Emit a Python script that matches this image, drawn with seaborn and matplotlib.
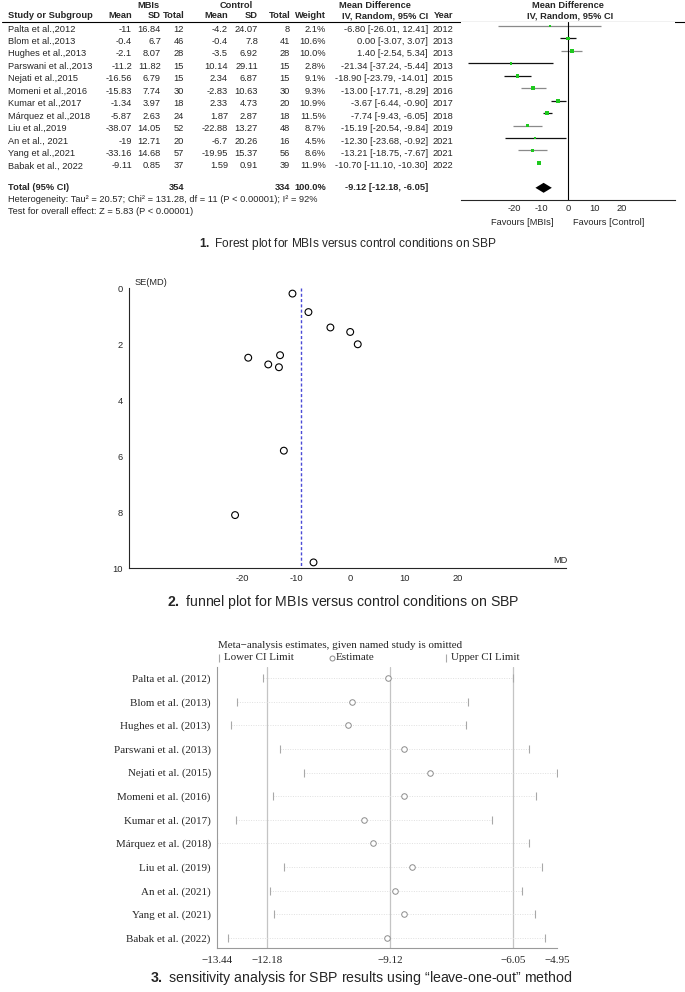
import numpy as np
import pandas as pd
import seaborn as sns
import matplotlib.pyplot as plt

# ---- forest plot data ----
studies = ['Palta et al.,2012', 'Blom et al.,2013', 'Hughes et al.,2013', 'Parswani et al.,2013',
           'Nejati et al.,2015', 'Momeni et al.,2016', 'Kumar et al.,2017', 'Márquez et al.,2018',
           'Liu et al.,2019', 'An et al., 2021', 'Yang et al.,2021', 'Babak et al., 2022']
mbi_mean = [-11, -0.4, -2.1, -11.2, -16.56, -15.83, -1.34, -5.87, -38.07, -19, -33.16, -9.11]
mbi_sd = [16.84, 6.7, 8.07, 11.82, 6.79, 7.74, 3.97, 2.63, 14.05, 12.71, 14.68, 0.85]
mbi_n = [12, 46, 28, 15, 15, 30, 18, 24, 52, 20, 57, 37]
ctl_mean = [-4.2, -0.4, -3.5, 10.14, 2.34, -2.83, 2.33, 1.87, -22.88, -6.7, -19.95, 1.59]
ctl_sd = [24.07, 7.8, 6.92, 29.11, 6.87, 10.63, 4.73, 2.87, 13.27, 20.26, 15.37, 0.91]
ctl_n = [8, 41, 28, 15, 15, 30, 20, 18, 48, 16, 56, 39]
weight = [2.1, 10.6, 10.0, 2.8, 9.1, 9.3, 10.9, 11.5, 8.7, 4.5, 8.6, 11.9]
md = [-6.80, 0.00, 1.40, -21.34, -18.90, -13.00, -3.67, -7.74, -15.19, -12.30, -13.21, -10.70]
md_lo = [-26.01, -3.07, -2.54, -37.24, -23.79, -17.71, -6.44, -9.43, -20.54, -23.68, -18.75, -11.10]
md_hi = [12.41, 3.07, 5.34, -5.44, -14.01, -8.29, -0.90, -6.05, -9.84, -0.92, -7.67, -10.30]
years = [2012, 2013, 2013, 2013, 2015, 2016, 2017, 2018, 2019, 2021, 2021, 2022]
total_n_mbi, total_n_ctl = 354, 334
total_md, total_lo, total_hi = -9.12, -12.18, -6.05
heterogeneity = 'Heterogeneity: Tau² = 20.57; Chi² = 131.28, df = 11 (P < 0.00001); I² = 92%'
overall = 'Test for overall effect: Z = 5.83 (P < 0.00001)'

# ---- funnel plot data ----
se_md = [9.80, 1.57, 2.01, 8.11, 2.49, 2.40, 1.41, 0.86, 2.73, 5.81, 2.83, 0.20]

# ---- leave-one-out data ----
sens_labels = ['Palta et al. (2012)', 'Blom et al. (2013)', 'Hughes et al. (2013)', 'Parswani et al. (2013)',
               'Nejati et al. (2015)', 'Momeni et al. (2016)', 'Kumar et al. (2017)', 'Márquez et al. (2018)',
               'Liu et al. (2019)', 'An et al. (2021)', 'Yang et al. (2021)', 'Babak et al. (2022)']
sens_est = [-9.18, -10.07, -10.16, -8.77, -8.13, -8.76, -9.78, -9.54, -8.56, -8.99, -8.76, -9.20]
sens_lo = [-12.29, -12.94, -13.09, -11.87, -11.26, -12.03, -12.97, -13.44, -11.77, -12.12, -12.01, -13.17]
sens_hi = [-6.06, -7.18, -7.22, -5.65, -4.95, -5.48, -6.57, -5.64, -5.33, -5.83, -5.51, -5.24]
sens_ticks = [-13.44, -12.18, -9.12, -6.05, -4.95]

sns.set_style('white')
plt.rcParams['font.family'] = ['Liberation Sans', 'DejaVu Sans']
plt.rcParams['axes.unicode_minus'] = False
plt.rcParams['mathtext.fontset'] = 'custom'
plt.rcParams['mathtext.bf'] = 'Liberation Sans:bold'
plt.rcParams['mathtext.rm'] = 'Liberation Sans'

W, H = 685, 992
fig = plt.figure(figsize=(W / 100, H / 100), dpi=100)


def box(left, top, right, bottom):
    return [left / W, 1 - bottom / H, (right - left) / W, (bottom - top) / H]


cv = fig.add_axes([0, 0, 1, 1])
cv.set_xlim(0, W)
cv.set_ylim(H, 0)
cv.axis('off')

# ================= 1. forest plot =================
fs = 6.7
nrow = len(studies)
ty = [29 + 12.45 * i for i in range(nrow)]

cv.text(148, 5, 'MBIs', ha='center', va='center', fontsize=fs, weight='bold')
cv.text(236, 5, 'Control', ha='center', va='center', fontsize=fs, weight='bold')
cv.text(375, 5, 'Mean Difference', ha='center', va='center', fontsize=fs, weight='bold')
cv.text(568, 5, 'Mean Difference', ha='center', va='center', fontsize=fs, weight='bold')
hdr = [('Study or Subgroup', 8, 'left'), ('Mean', 132, 'right'), ('SD', 161, 'right'), ('Total', 185, 'right'),
       ('Mean', 228, 'right'), ('SD', 258, 'right'), ('Total', 291, 'right'), ('Weight', 326, 'right'),
       ('IV, Random, 95% CI', 428, 'right'), ('Year', 453, 'right')]
for t, x, ha in hdr:
    cv.text(x, 16, t, ha=ha, va='center', fontsize=fs, weight='bold')
cv.text(570, 16, 'IV, Random, 95% CI', ha='center', va='center', fontsize=fs, weight='bold')
cv.plot([2, 685], [22, 22], color='black', lw=0.8)

for i in range(nrow):
    y = ty[i]
    cells = [(studies[i], 8, 'left'), (str(mbi_mean[i]), 132, 'right'), (str(mbi_sd[i]), 161, 'right'),
             (str(mbi_n[i]), 184, 'right'), (str(ctl_mean[i]), 228, 'right'), (str(ctl_sd[i]), 258, 'right'),
             (str(ctl_n[i]), 290, 'right'), (f'{weight[i]:.1f}%', 326, 'right'),
             (f'{md[i]:.2f} [{md_lo[i]:.2f}, {md_hi[i]:.2f}]', 428, 'right'), (str(years[i]), 453, 'right')]
    for t, x, ha in cells:
        cv.text(x, y, t, ha=ha, va='center', fontsize=fs)

yt = 188
cv.text(8, yt, 'Total (95% CI)', ha='left', va='center', fontsize=fs, weight='bold')
cv.text(184, yt, str(total_n_mbi), ha='right', va='center', fontsize=fs, weight='bold')
cv.text(290, yt, str(total_n_ctl), ha='right', va='center', fontsize=fs, weight='bold')
cv.text(326, yt, '100.0%', ha='right', va='center', fontsize=fs, weight='bold')
cv.text(428, yt, f'{total_md:.2f} [{total_lo:.2f}, {total_hi:.2f}]', ha='right', va='center',
        fontsize=fs, weight='bold')
cv.text(8, 200, heterogeneity, ha='left', va='center', fontsize=fs)
cv.text(8, 212, overall, ha='left', va='center', fontsize=fs)

ax1 = fig.add_axes(box(461, 22, 675, 200))
ax1.set_xlim(-40, 40)
ax1.set_ylim(13.98, -0.32)
rows = np.arange(nrow)
line_cols = ['#8a8a8a', '#111111', '#8a8a8a', '#111111', '#111111', '#8a8a8a',
             '#111111', '#111111', '#8a8a8a', '#111111', '#8a8a8a', '#111111']
ax1.hlines(rows, md_lo, md_hi, colors=line_cols, lw=0.9)
sns.scatterplot(x=md, y=rows, size=weight, sizes=(2.5, 8), size_norm=(2.1, 11.9), marker='s',
                color='#1ec81e', linewidth=0, legend=False, ax=ax1, zorder=3)
ax1.axvline(0, color='black', lw=0.8)
dy = 0.4
ax1.fill([total_lo, total_md, total_hi, total_md], [13, 13 - dy, 13, 13 + dy], color='black', lw=0)
for s in ['left', 'right', 'top']:
    ax1.spines[s].set_visible(False)
ax1.spines['bottom'].set_linewidth(0.8)
ax1.set_yticks([])
ax1.set_xticks([-20, -10, 0, 10, 20])
ax1.tick_params(axis='x', direction='in', length=3, width=0.8, pad=3, labelsize=fs)
ax1.text(-5.5, 15.75, 'Favours [MBIs]', ha='right', va='center', fontsize=fs, clip_on=False)
ax1.text(1.8, 15.75, 'Favours [Control]', ha='left', va='center', fontsize=fs, clip_on=False)
ax1.set_xlabel('')
ax1.set_ylabel('')

cv.text(348, 244, '$\\mathbf{1.}$ Forest plot for MBIs versus control conditions on SBP',
        ha='center', va='center', fontsize=8.6)

# ================= 2. funnel plot =================
ax2 = fig.add_axes(box(129, 288, 566, 568))
ax2.set_xlim(-41, 40)
ax2.set_ylim(10, 0)
sns.scatterplot(x=md, y=se_md, ax=ax2, s=24, facecolor='none', edgecolor='black', linewidth=0.8,
                clip_on=False, zorder=3)
ax2.plot([total_md, total_md], [0, 10], color='#4a4ad6', lw=1.0, ls=(0, (2.2, 1.6)))
for s in ['right', 'top']:
    ax2.spines[s].set_visible(False)
for s in ['left', 'bottom']:
    ax2.spines[s].set_linewidth(0.8)
ax2.set_xticks([-20, -10, 0, 10, 20])
ax2.set_yticks([0, 2, 4, 6, 8, 10])
ax2.tick_params(direction='out', length=3, width=0.8, pad=1.5, labelsize=fs)
ax2.text(0.012, 1.005, 'SE(MD)', transform=ax2.transAxes, ha='left', va='bottom', fontsize=fs)
ax2.text(39, 9.88, 'MD', ha='center', va='bottom', fontsize=fs)
ax2.set_xlabel('')
ax2.set_ylabel('')

cv.text(343, 602, '$\\mathbf{2.}$ funnel plot for MBIs versus control conditions on SBP',
        ha='center', va='center', fontsize=10.2)

# ================= 3. leave-one-out sensitivity =================
serif = ['Liberation Serif', 'DejaVu Serif']
sf = 7.9
gray = '#a8a8a8'
ax3 = fig.add_axes(box(217, 667, 557, 948))
ax3.set_xlim(-13.44, -4.95)
ax3.set_ylim(11.42, -0.465)
srows = np.arange(len(sens_labels))
for v in [total_lo, total_md, total_hi]:
    ax3.axvline(v, color='#c4c4c4', lw=0.9, zorder=1)
ax3.hlines(srows, sens_lo, sens_hi, colors='#e0e0e0', lw=0.7, linestyles=(0, (1, 1.5)), zorder=1)
ax3.scatter(sens_lo, srows, marker='|', s=34, color=gray, linewidths=0.8, zorder=2)
ax3.scatter(sens_hi, srows, marker='|', s=34, color=gray, linewidths=0.8, zorder=2)
sns.scatterplot(x=sens_est, y=srows, ax=ax3, s=16, facecolor='white', edgecolor='#8c8c8c',
                linewidth=0.7, zorder=3)
for s in ['right', 'top']:
    ax3.spines[s].set_visible(False)
for s in ['left', 'bottom']:
    ax3.spines[s].set_color('#9a9a9a')
    ax3.spines[s].set_linewidth(0.8)
ax3.set_yticks(srows)
ax3.set_yticklabels(sens_labels, fontfamily=serif, fontsize=sf)
ax3.set_xticks(sens_ticks)
ax3.set_xticklabels([f'{v:.2f}'.replace('-', '\u2212') for v in sens_ticks], fontfamily=serif, fontsize=sf)
ax3.tick_params(axis='y', length=0, pad=4.5)
ax3.tick_params(axis='x', length=3, width=0.8, color='#9a9a9a', pad=2.5)
ax3.set_xlabel('')
ax3.set_ylabel('')

cv.text(340, 645, 'Meta\u2212analysis estimates, given named study is omitted', ha='center', va='center',
        fontsize=sf, family=serif)
cv.plot([219], [658], marker='|', ms=6, color=gray, mew=0.8)
cv.text(224, 658, 'Lower CI Limit', ha='left', va='center', fontsize=sf, family=serif)
cv.plot([332], [658], marker='o', ms=3.6, mfc='white', mec='#8c8c8c', mew=0.7)
cv.text(336, 658, 'Estimate', ha='left', va='center', fontsize=sf, family=serif)
cv.plot([446], [658], marker='|', ms=6, color=gray, mew=0.8)
cv.text(451, 658, 'Upper CI Limit', ha='left', va='center', fontsize=sf, family=serif)

cv.text(361, 978, '$\\mathbf{3.}$ sensitivity analysis for SBP results using \u201cleave-one-out\u201d method',
        ha='center', va='center', fontsize=10.2)

fig.savefig('out.png', dpi=100)
